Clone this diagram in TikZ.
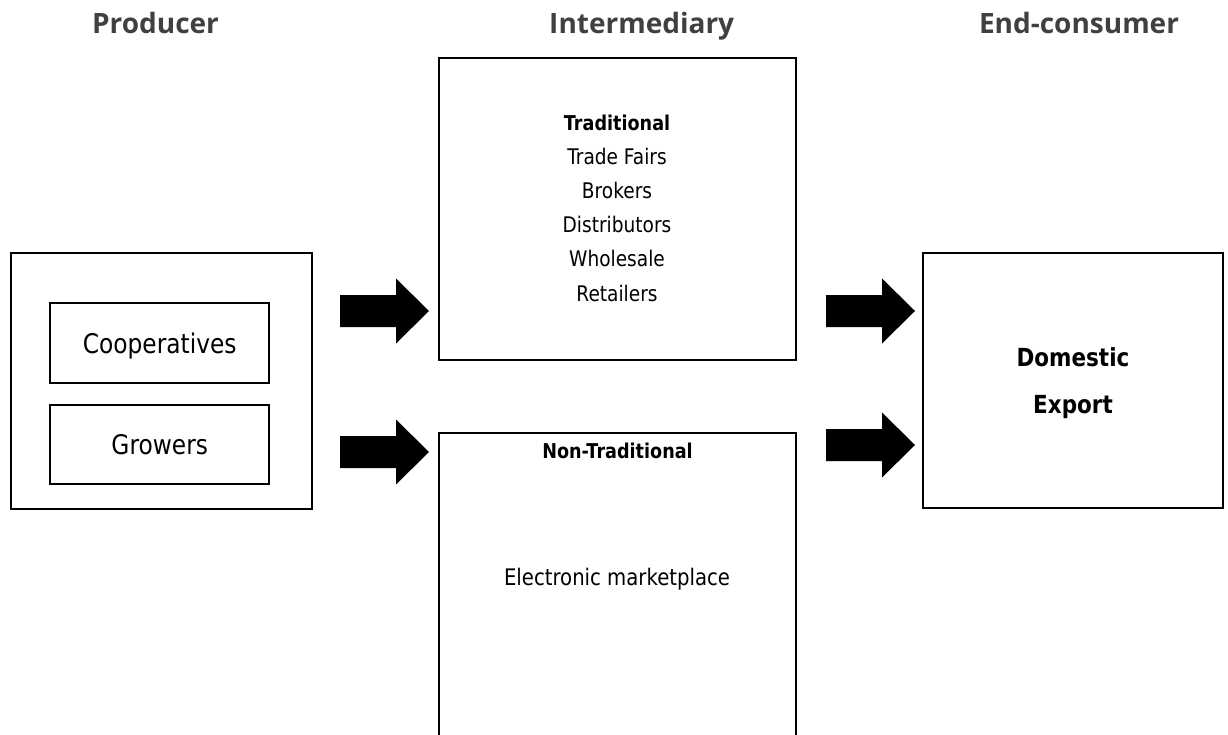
\documentclass[tikz,border=0pt]{standalone}
\usepackage{fontspec}
\setmainfont{DejaVu Sans}[FakeStretch=0.863]
\newfontfamily\hdrfont{Open Sans}
\definecolor{hdrgray}{HTML}{404040}
\tikzset{
  box/.style={draw=black, line width=2pt, fill=none, inner sep=0pt},
  hdr/.style={anchor=base, text=hdrgray, font=\hdrfont\bfseries\fontsize{28}{32}\selectfont},
  body/.style={anchor=base, font=\fontsize{21.5}{25}\selectfont},
  bodyl/.style={anchor=base, font=\fontsize{22.8}{27}\selectfont},
  bodyxl/.style={anchor=base, font=\fontsize{27}{32}\selectfont},
  bodyb/.style={anchor=base, font=\bfseries\fontsize{20.4}{24}\selectfont},
  bigb/.style={anchor=base, font=\bfseries\fontsize{24.9}{29}\selectfont},
  blockarrow/.pic={\fill[black] (0,-16) -- (56,-16) -- (56,-32.5) -- (89,0) -- (56,32.5) -- (56,16) -- (0,16) -- cycle;}
}
\begin{document}
\begin{tikzpicture}[x=1pt,y=-1pt]
\useasboundingbox (0,0) rectangle (1228,735);
\clip (0,0) rectangle (1228,735);
% headers
\node[hdr] (hprod) at (155.5,33.3) {Producer};
\node[hdr] (hint) at (641.7,33.3) {Intermediary};
\node[hdr] (hend) at (1079,33.3) {End-consumer};
% producer
\node[box, minimum width=301pt, minimum height=256pt] (prod) at (161.5,381) {};
\node[box, minimum width=219pt, minimum height=80pt] (coop) at (159.5,343) {};
\node[box, minimum width=219pt, minimum height=79pt] (grow) at (159.5,444.5) {};
\node[bodyxl] (tcoop) at (159.7,353.3) {Cooperatives};
\node[bodyxl] (tgrow) at (159.7,454.8) {Growers};
% intermediary
\node[box, minimum width=357pt, minimum height=302pt] (trad) at (617.5,209) {};
\node[bodyb] (t1) at (617,131) {Traditional};
\node[body] (t2) at (617,165) {Trade Fairs};
\node[body] (t3) at (617,199) {Brokers};
\node[body] (t4) at (617,233) {Distributors};
\node[body] (t5) at (617,267) {Wholesale};
\node[body] (t6) at (617,301) {Retailers};
\node[box, minimum width=357pt, minimum height=312pt] (nontrad) at (617.5,589) {};
\node[bodyb] (n1) at (617.5,458) {Non-Traditional};
\node[bodyl] (n2) at (617,585) {Electronic marketplace};
% end consumer
\node[box, minimum width=300pt, minimum height=255pt] (endc) at (1073,380.5) {};
\node[bigb] (d1) at (1073,366.7) {Domestic};
\node[bigb] (d2) at (1073,413.3) {Export};
% arrows
\pic (a1) at (340,311) {blockarrow};
\pic (a2) at (340,452) {blockarrow};
\pic (a3) at (826,311) {blockarrow};
\pic (a4) at (826,445) {blockarrow};
\end{tikzpicture}
\end{document}
